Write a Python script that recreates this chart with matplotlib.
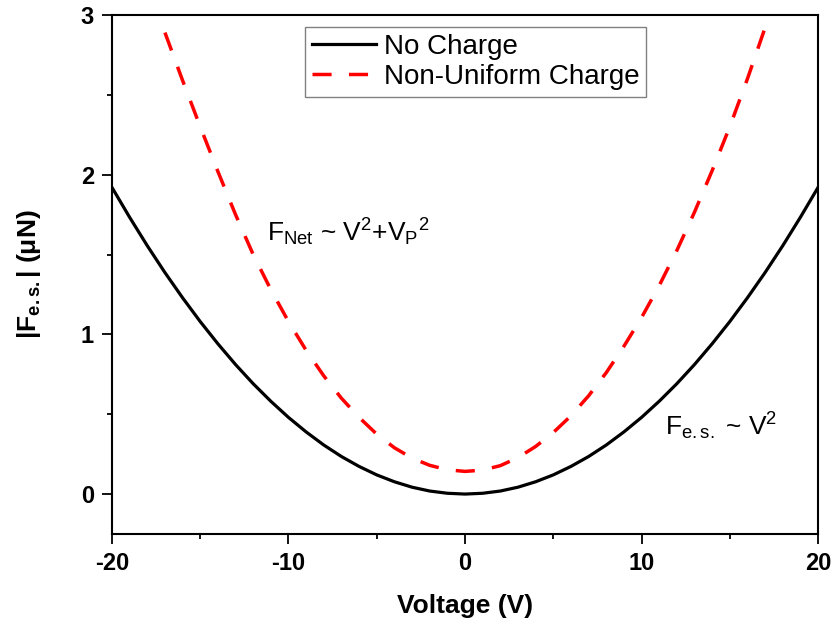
import matplotlib
matplotlib.use("Agg")
import matplotlib.pyplot as plt
from matplotlib.ticker import MultipleLocator

plt.rcParams['font.family'] = ['Liberation Sans', 'DejaVu Sans']
plt.rcParams['mathtext.fontset'] = 'custom'
plt.rcParams['mathtext.rm'] = 'Liberation Sans'
plt.rcParams['mathtext.it'] = 'Liberation Sans:italic'
plt.rcParams['mathtext.bf'] = 'Liberation Sans:bold'
plt.rcParams['axes.unicode_minus'] = False

# Daten
v_black = [-20, -19, -18, -17, -16, -15, -14, -13, -12, -11, -10, -9, -8, -7, -6,
           -5, -4, -3, -2, -1, 0, 1, 2, 3, 4, 5, 6, 7, 8, 9, 10, 11, 12, 13, 14,
           15, 16, 17, 18, 19, 20]
f_black = [1.920, 1.733, 1.555, 1.387, 1.229, 1.080, 0.941, 0.811, 0.691, 0.581,
           0.480, 0.389, 0.307, 0.235, 0.173, 0.120, 0.077, 0.043, 0.019, 0.005,
           0.000, 0.005, 0.019, 0.043, 0.077, 0.120, 0.173, 0.235, 0.307, 0.389,
           0.480, 0.581, 0.691, 0.811, 0.941, 1.080, 1.229, 1.387, 1.555, 1.733,
           1.920]

v_red = [-17, -16, -15, -14, -13, -12, -11, -10, -9, -8, -7, -6, -5, -4, -3, -2,
         -1, 0, 1, 2, 3, 4, 5, 6, 7, 8, 9, 10, 11, 12, 13, 14, 15, 16, 17, 17.5]
f_red = [2.89, 2.59, 2.30, 2.02, 1.75, 1.50, 1.28, 1.08, 0.90, 0.74, 0.60, 0.48,
         0.375, 0.29, 0.225, 0.18, 0.152, 0.142, 0.150, 0.178, 0.228, 0.298,
         0.385, 0.49, 0.615, 0.76, 0.925, 1.105, 1.305, 1.525, 1.765, 2.025,
         2.30, 2.60, 2.92, 3.09]

x_ticks = [-20, -10, 0, 10, 20]
y_ticks = [0, 1, 2, 3]

fig = plt.figure(figsize=(8.32, 6.30), dpi=100)
ax = fig.add_axes([0.1346, 0.1524, 0.8486, 0.8238])

ax.plot(v_black, f_black, color='black', lw=2.3, label='No Charge')
ax.plot(v_red, f_red, color='#ff0000', lw=2.5, linestyle=(0, (5.5, 5)),
        label='Non-Uniform Charge')

ax.set_xlim(-20, 20)
ax.set_ylim(-0.25, 3)
ax.set_xticks(x_ticks)
ax.set_yticks(y_ticks)
ax.xaxis.set_minor_locator(MultipleLocator(5))
ax.yaxis.set_minor_locator(MultipleLocator(0.5))

for s in ax.spines.values():
    s.set_linewidth(1.5)
ax.tick_params(which='major', length=7, width=1.3, labelsize=17, pad=6)
ax.tick_params(which='minor', length=3.5, width=1.3)
for lab in ax.get_xticklabels() + ax.get_yticklabels():
    lab.set_fontweight('bold')

ax.set_xlabel('Voltage (V)', fontsize=19, fontweight='bold', labelpad=14)
ax.set_ylabel(r'|F$_{\mathregular{e{.}s{.}}}$| (μN)', fontsize=19,
              fontweight='bold', labelpad=27)

ax.text(-11.2, 1.585,
        r'F$_{\mathregular{Net}}$ ~ V$^{\mathregular{2}}$+V$_{\mathregular{P}}$$^{\mathregular{2}}$',
        fontsize=19, ha='left', va='baseline')
ax.text(11.33, 0.37, r'F$_{\mathregular{e{.}s{.}}}$ ~ V$^{\mathregular{2}}$',
        fontsize=19, ha='left', va='baseline')

leg = ax.legend(loc='upper left', bbox_to_anchor=(0.273, 0.977), fontsize=20,
                frameon=True, fancybox=False, framealpha=1, edgecolor='#808080',
                borderaxespad=0, borderpad=0.25, handlelength=2.3,
                handletextpad=0.3, labelspacing=0.15)
leg.get_frame().set_linewidth(1.0)

fig.savefig('out.png', dpi=100, facecolor='white')
